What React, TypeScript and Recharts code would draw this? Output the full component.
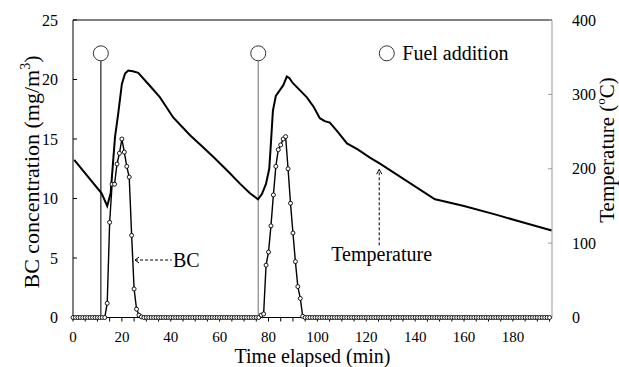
import { ComposedChart, Line, XAxis, YAxis, ReferenceLine, ReferenceDot, Label } from 'recharts';

const FONT = '"Liberation Serif", "Times New Roman", Times, serif';

// x axis: minor ticks every 5 min, labels every 20 min
const timeTicks = [0, 5, 10, 15, 20, 25, 30, 35, 40, 45, 50, 55, 60, 65, 70, 75, 80, 85, 90, 95,
    100, 105, 110, 115, 120, 125, 130, 135, 140, 145, 150, 155, 160, 165, 170, 175, 180, 185, 190, 195];
const bcTicks = [0, 5, 10, 15, 20, 25];
const tempTicks = [0, 100, 200, 300, 400];

// BC concentration (mg/m3), one reading per minute
const bcMinutes = [
    0, 1, 2, 3, 4, 5, 6, 7, 8, 9, 10, 11, 12, 13, 14, 15, 16, 17, 18, 19,
    20, 21, 22, 23, 24, 25, 26, 27, 28, 29, 30, 31, 32, 33, 34, 35, 36, 37, 38, 39,
    40, 41, 42, 43, 44, 45, 46, 47, 48, 49, 50, 51, 52, 53, 54, 55, 56, 57, 58, 59,
    60, 61, 62, 63, 64, 65, 66, 67, 68, 69, 70, 71, 72, 73, 74, 75, 76, 77, 78, 79,
    80, 81, 82, 83, 84, 85, 86, 87, 88, 89, 90, 91, 92, 93, 94, 95, 96, 97, 98, 99,
    100, 101, 102, 103, 104, 105, 106, 107, 108, 109, 110, 111, 112, 113, 114, 115, 116, 117, 118, 119,
    120, 121, 122, 123, 124, 125, 126, 127, 128, 129, 130, 131, 132, 133, 134, 135, 136, 137, 138, 139,
    140, 141, 142, 143, 144, 145, 146, 147, 148, 149, 150, 151, 152, 153, 154, 155, 156, 157, 158, 159,
    160, 161, 162, 163, 164, 165, 166, 167, 168, 169, 170, 171, 172, 173, 174, 175, 176, 177, 178, 179,
    180, 181, 182, 183, 184, 185, 186, 187, 188, 189, 190, 191, 192, 193, 194, 195,
];
const bcValues = [
    0, 0, 0, 0, 0, 0, 0, 0, 0, 0, 0, 0, 0, 0, 1.2, 8.0, 11.2, 11.2, 12.9, 13.8,
    15.0, 13.9, 12.7, 11.8, 6.9, 2.4, 0.7, 0.2, 0.05, 0, 0, 0, 0, 0, 0, 0, 0, 0, 0, 0,
    0, 0, 0, 0, 0, 0, 0, 0, 0, 0, 0, 0, 0, 0, 0, 0, 0, 0, 0, 0,
    0, 0, 0, 0, 0, 0, 0, 0, 0, 0, 0, 0, 0, 0, 0, 0, 0, 0.2, 0.3, 4.4,
    5.5, 7.7, 10.3, 12.7, 14.1, 14.5, 15.0, 15.2, 12.5, 9.6, 7.1, 4.7, 2.6, 1.6, 0.1, 0, 0, 0, 0, 0,
    0, 0, 0, 0, 0, 0, 0, 0, 0, 0, 0, 0, 0, 0, 0, 0, 0, 0, 0, 0,
    0, 0, 0, 0, 0, 0, 0, 0, 0, 0, 0, 0, 0, 0, 0, 0, 0, 0, 0, 0,
    0, 0, 0, 0, 0, 0, 0, 0, 0, 0, 0, 0, 0, 0, 0, 0, 0, 0, 0, 0,
    0, 0, 0, 0, 0, 0, 0, 0, 0, 0, 0, 0, 0, 0, 0, 0, 0, 0, 0, 0,
    0, 0, 0, 0, 0, 0, 0, 0, 0, 0, 0, 0, 0, 0, 0, 0,
];

// temperature (°C)
const tempMinutes = [0.5, 11.7, 14.0, 15.4, 17.2, 18.5, 20.0, 21.3, 22.6, 24.5, 26.7, 30.8, 35.6, 41.0,
    47.9, 51.9, 58.0, 64.2, 68.3, 72.4, 75.7, 77.3, 79.0, 80.3, 81.0, 81.8, 83.0, 84.5, 86.0, 87.5,
    88.5, 90.0, 93.0, 95.7, 98.5, 101.0, 103.0, 105.1, 108.5, 112.1, 116.5, 121.5, 125.6, 148.1,
    149.5, 160.0, 173.4, 185.0, 195.9];
const tempValues = [212, 167, 150, 167, 243, 274, 314, 328, 332, 331, 329, 314, 296, 269,
    245, 233, 214, 194, 180, 167, 159, 166, 180, 200, 235, 278, 298, 305, 312, 324,
    322, 315, 305, 296, 283, 268, 264, 262, 249, 234, 226, 215, 207, 159,
    158, 150, 138, 127, 117];

// fuel additions (min) and the BC-axis level their circles sit at
const fuelMinutes = [11.4, 75.8];
const fuelLineColors = ['#222', '#888'];
const fuelLevel = 22.2;

const bcRows = bcMinutes.map((t, i) => ({ t, bc: bcValues[i] }));
const tempRows = tempMinutes.map((t, i) => ({ t, temp: tempValues[i] }));

const textStyle = { fontFamily: FONT, fill: '#000' };

const LeftTitle = () => (
    <text transform="translate(39,172) rotate(-90)" textAnchor="middle" fontSize={22} {...textStyle}>
        BC concentration (mg/m<tspan dy={-9} fontSize={14}>3</tspan><tspan dy={9}>)</tspan>
    </text>
);

const RightTitle = () => (
    <text transform="translate(614,150) rotate(-90)" textAnchor="middle" fontSize={21} {...textStyle}>
        Temperature (<tspan dy={-9} fontSize={13}>o</tspan><tspan dy={9}>C)</tspan>
    </text>
);

export default function App() {
    return (
        <div style={{ position: 'absolute', left: 0, top: 0, width: 619, height: 367, background: '#fff', fontFamily: FONT }}>
            <ComposedChart width={619} height={367} margin={{ top: 20, right: 0, bottom: 0, left: 0 }} style={{ fontFamily: FONT }}>
                <XAxis
                    dataKey="t"
                    type="number"
                    domain={[0, 196]}
                    ticks={timeTicks}
                    interval={0}
                    tickFormatter={(v: number) => (v % 20 === 0 ? String(v) : '')}
                    height={49.5}
                    stroke="#000"
                    tickSize={4}
                    tickMargin={10}
                    tick={{ fontSize: 15, ...textStyle }}
                >
                    <Label value="Time elapsed (min)" position="insideBottom" offset={4} fontSize={20} {...textStyle} />
                </XAxis>
                <YAxis
                    yAxisId="bc"
                    domain={[0, 25]}
                    ticks={bcTicks}
                    width={73}
                    stroke="#000"
                    tickSize={-4}
                    tickMargin={19}
                    tick={{ fontSize: 16, ...textStyle }}
                    label={<LeftTitle />}
                />
                <YAxis
                    yAxisId="temp"
                    orientation="right"
                    domain={[0, 400]}
                    ticks={tempTicks}
                    width={67}
                    stroke="#999"
                    tickSize={-4}
                    tickMargin={24}
                    tick={{ fontSize: 16, ...textStyle }}
                    label={<RightTitle />}
                />

                {/* frame top */}
                <ReferenceLine yAxisId="bc" y={25} stroke="#000" />

                {/* fuel addition markers */}
                {fuelMinutes.map((t, i) => (
                    <ReferenceLine
                        key={'fl' + i}
                        yAxisId="bc"
                        segment={[{ x: t, y: 0.2 }, { x: t, y: fuelLevel - 0.65 }]}
                        stroke={fuelLineColors[i]}
                        strokeWidth={1.2}
                    />
                ))}
                {fuelMinutes.map((t, i) => (
                    <ReferenceDot key={'fd' + i} yAxisId="bc" x={t} y={fuelLevel} r={7.5}
                        fill="#fff" stroke="#333" strokeWidth={1} />
                ))}

                {/* legend */}
                <ReferenceDot yAxisId="bc" x={128.4} y={fuelLevel} r={7.5} fill="#fff" stroke="#333" strokeWidth={1}
                    label={{ value: 'Fuel addition', position: 'right', offset: 8, fontSize: 20, ...textStyle }} />

                <Line
                    data={tempRows}
                    dataKey="temp"
                    yAxisId="temp"
                    type="linear"
                    stroke="#000"
                    strokeWidth={2}
                    dot={false}
                    isAnimationActive={false}
                />
                <Line
                    data={bcRows}
                    dataKey="bc"
                    yAxisId="bc"
                    type="linear"
                    stroke="#000"
                    strokeWidth={1.4}
                    dot={{ r: 2, fill: '#fff', stroke: '#000', strokeWidth: 0.9 }}
                    isAnimationActive={false}
                />

                {/* BC annotation arrow */}
                <ReferenceLine yAxisId="bc" segment={[{ x: 25.4, y: 4.83 }, { x: 40.4, y: 4.83 }]}
                    stroke="#000" strokeDasharray="3 2" />
                <ReferenceLine yAxisId="bc" segment={[{ x: 25.4, y: 4.83 }, { x: 27.0, y: 5.08 }]} stroke="#000" />
                <ReferenceLine yAxisId="bc" segment={[{ x: 25.4, y: 4.83 }, { x: 27.0, y: 4.58 }]} stroke="#000" />
                <ReferenceDot yAxisId="bc" x={40.9} y={4.81} r={0} fill="none" stroke="none"
                    label={{ value: 'BC', position: 'right', offset: 0, fontSize: 20, ...textStyle }} />

                {/* Temperature annotation arrow */}
                <ReferenceLine yAxisId="temp" segment={[{ x: 125.3, y: 97 }, { x: 125.3, y: 199 }]}
                    stroke="#000" strokeDasharray="3 2" />
                <ReferenceLine yAxisId="temp" segment={[{ x: 125.3, y: 199 }, { x: 124.2, y: 192.7 }]} stroke="#000" />
                <ReferenceLine yAxisId="temp" segment={[{ x: 125.3, y: 199 }, { x: 126.4, y: 192.7 }]} stroke="#000" />
                <ReferenceDot yAxisId="temp" x={126.3} y={85.2} r={0} fill="none" stroke="none"
                    label={{ value: 'Temperature', position: 'center', fontSize: 20, ...textStyle }} />
            </ComposedChart>
        </div>
    );
}
